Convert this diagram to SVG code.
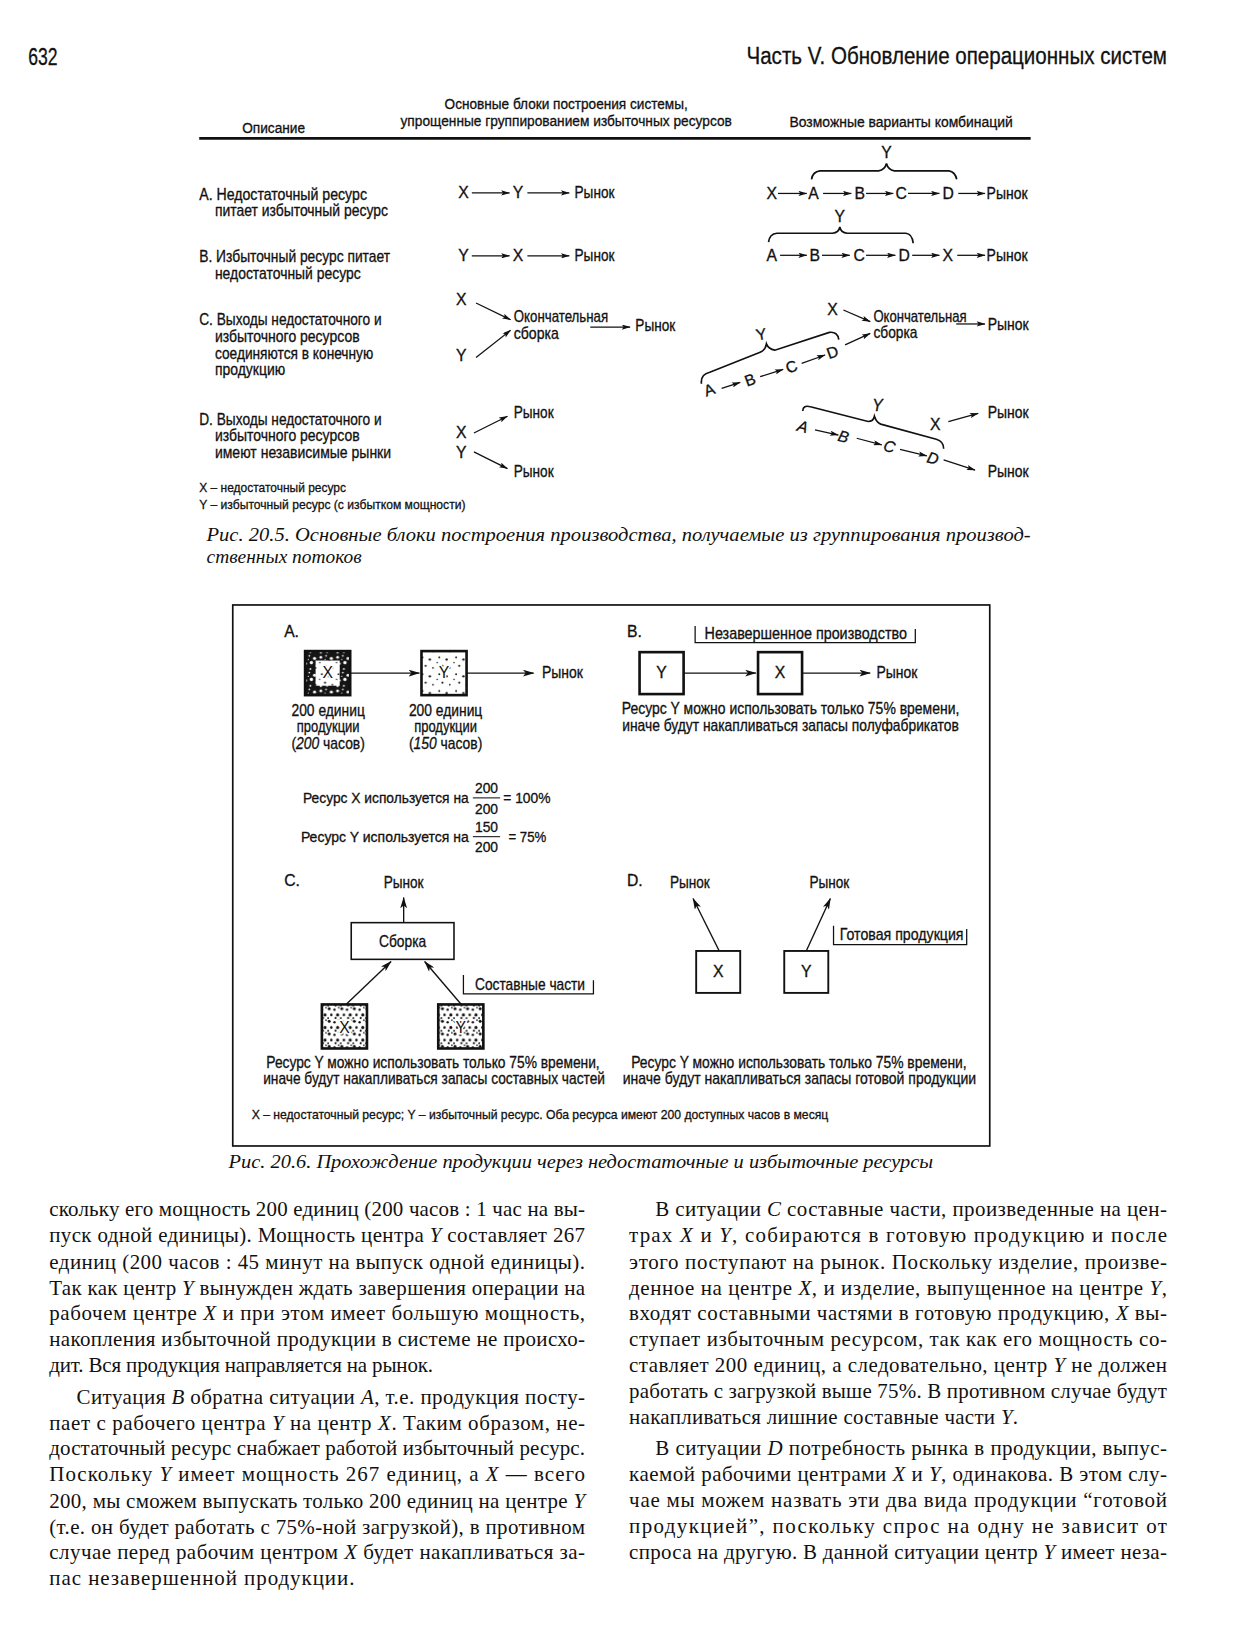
<svg xmlns="http://www.w3.org/2000/svg" width="1238" height="1644" viewBox="0 0 1238 1644">
<defs>
<style>
.s{font-family:"Liberation Sans Narrow","Liberation Sans",Arial,sans-serif;fill:#111;stroke:#111;stroke-width:0.3}
.h{font-size:14px}
.r{font-size:15px}
.sm{font-size:13px}
.hd{font-size:23px}
.cap{font-family:"Liberation Serif","Times New Roman",serif;font-style:italic;font-size:18px;fill:#111}
.b{font-family:"Liberation Serif","Times New Roman",serif;font-size:20px;fill:#111}
.i{font-style:italic}
.ln{stroke:#111;stroke-width:1.2;fill:none}
.ln2{stroke:#111;stroke-width:1.3;fill:none}
.br{stroke:#111;stroke-width:1.6;fill:none}
.bx{stroke:#111;stroke-width:2.5}
.mid{text-anchor:middle}
.halo{stroke:#fff;stroke-width:3;paint-order:stroke}
</style>
<marker id="a1" viewBox="0 0 10 6" refX="9.5" refY="3" markerWidth="9" markerHeight="5" orient="auto" markerUnits="userSpaceOnUse"><path d="M0,0 L10,3 L0,6 L2,3z" fill="#111"/></marker>
<marker id="a2" viewBox="0 0 10 6" refX="9.5" refY="3" markerWidth="11" markerHeight="6.5" orient="auto" markerUnits="userSpaceOnUse"><path d="M0,0 L10,3 L0,6 L2.5,3z" fill="#111"/></marker>
<pattern id="pd" width="16" height="16" patternUnits="userSpaceOnUse">
<rect width="16" height="16" fill="#151515"/>
<circle cx="2" cy="3" r="1.3" fill="#fff"/><circle cx="7" cy="1.5" r="0.8" fill="#fff"/><circle cx="12" cy="4" r="1.5" fill="#fff"/><circle cx="4" cy="9" r="1" fill="#fff"/><circle cx="9" cy="8" r="1.6" fill="#fff"/><circle cx="14" cy="11" r="0.9" fill="#fff"/><circle cx="2" cy="14" r="1.2" fill="#fff"/><circle cx="8" cy="14" r="0.9" fill="#fff"/><circle cx="6" cy="5" r="0.6" fill="#fff"/>
</pattern>
<pattern id="pl" width="16" height="16" patternUnits="userSpaceOnUse">
<rect width="16" height="16" fill="#fff"/>
<circle cx="3" cy="3" r="0.9" fill="#111"/><circle cx="10" cy="5" r="1.1" fill="#111"/><circle cx="6" cy="11" r="1" fill="#111"/><circle cx="13" cy="13" r="0.8" fill="#111"/><circle cx="1" cy="8" r="0.7" fill="#111"/>
</pattern>
<pattern id="pm" width="12" height="12" patternUnits="userSpaceOnUse">
<rect width="12" height="12" fill="#fff"/>
<circle cx="2" cy="2" r="1.4" fill="#111"/><circle cx="7" cy="3" r="1.1" fill="#111"/><circle cx="10" cy="8" r="1.5" fill="#111"/><circle cx="4" cy="8" r="1.2" fill="#111"/><circle cx="1" cy="11" r="0.9" fill="#111"/><circle cx="8" cy="11" r="1" fill="#111"/><circle cx="11" cy="1" r="0.8" fill="#111"/>
</pattern>
</defs>
<rect width="1238" height="1644" fill="#fff"/>
<g transform="scale(1.04847)">

<!-- page header -->
<g id="page-header">
<text class="s hd" x="27" y="62" textLength="28" lengthAdjust="spacingAndGlyphs">632</text>
<text class="s hd" x="712" y="61" textLength="401" lengthAdjust="spacingAndGlyphs">Часть V. Обновление операционных систем</text>
</g>

<!-- Figure 20.5 -->
<g id="fig205-header">
<text class="s h" x="424" y="104" textLength="232" lengthAdjust="spacingAndGlyphs">Основные блоки построения системы,</text>
<text class="s h" x="382" y="120" textLength="316" lengthAdjust="spacingAndGlyphs">упрощенные группированием избыточных ресурсов</text>
<text class="s h" x="231" y="127" textLength="60" lengthAdjust="spacingAndGlyphs">Описание</text>
<text class="s h" x="753" y="121" textLength="213" lengthAdjust="spacingAndGlyphs">Возможные варианты комбинаций</text>
<line x1="190" y1="132" x2="983" y2="132" stroke="#111" stroke-width="2.6"/>
</g>

<g id="fig205-descriptions">
<text class="s r" x="190" y="191" textLength="160" lengthAdjust="spacingAndGlyphs">A. Недостаточный ресурс</text>
<text class="s r" x="205" y="206" textLength="165" lengthAdjust="spacingAndGlyphs">питает избыточный ресурс</text>
<text class="s r" x="190" y="250" textLength="182" lengthAdjust="spacingAndGlyphs">B. Избыточный ресурс питает</text>
<text class="s r" x="205" y="266" textLength="139" lengthAdjust="spacingAndGlyphs">недостаточный ресурс</text>
<text class="s r" x="190" y="310" textLength="174" lengthAdjust="spacingAndGlyphs">C. Выходы недостаточного и</text>
<text class="s r" x="205" y="326" textLength="138" lengthAdjust="spacingAndGlyphs">избыточного ресурсов</text>
<text class="s r" x="205" y="342" textLength="151" lengthAdjust="spacingAndGlyphs">соединяются в конечную</text>
<text class="s r" x="205" y="358" textLength="67" lengthAdjust="spacingAndGlyphs">продукцию</text>
<text class="s r" x="190" y="405" textLength="174" lengthAdjust="spacingAndGlyphs">D. Выходы недостаточного и</text>
<text class="s r" x="205" y="421" textLength="138" lengthAdjust="spacingAndGlyphs">избыточного ресурсов</text>
<text class="s r" x="205" y="437" textLength="168" lengthAdjust="spacingAndGlyphs">имеют независимые рынки</text>
<text class="s sm" x="190" y="469" textLength="140" lengthAdjust="spacingAndGlyphs">X – недостаточный ресурс</text>
<text class="s sm" x="190" y="485" textLength="254" lengthAdjust="spacingAndGlyphs">Y – избыточный ресурс (с избытком мощности)</text>
</g>

<g id="fig205-blocks">
<text class="s r" x="437" y="189">X</text>
<text class="s r" x="489" y="189">Y</text>
<text class="s r" x="548" y="189" textLength="38" lengthAdjust="spacingAndGlyphs">Рынок</text>
<text class="s r" x="437" y="249">Y</text>
<text class="s r" x="489" y="249">X</text>
<text class="s r" x="548" y="249" textLength="38" lengthAdjust="spacingAndGlyphs">Рынок</text>
<text class="s r" x="435" y="291">X</text>
<text class="s r" x="435" y="344">Y</text>
<text class="s r" x="490" y="307" textLength="90" lengthAdjust="spacingAndGlyphs">Окончательная</text>
<text class="s r" x="490" y="323" textLength="43" lengthAdjust="spacingAndGlyphs">сборка</text>
<text class="s r" x="606" y="316" textLength="38" lengthAdjust="spacingAndGlyphs">Рынок</text>
<text class="s r" x="490" y="399" textLength="38" lengthAdjust="spacingAndGlyphs">Рынок</text>
<text class="s r" x="435" y="418">X</text>
<text class="s r" x="435" y="437">Y</text>
<text class="s r" x="490" y="455" textLength="38" lengthAdjust="spacingAndGlyphs">Рынок</text>
</g>

<g id="fig205-combinations">
<text class="s r" x="731" y="190">X</text>
<text class="s r" x="771" y="190">A</text>
<text class="s r" x="815" y="190">B</text>
<text class="s r" x="854" y="190">C</text>
<text class="s r" x="899" y="190">D</text>
<text class="s r" x="941" y="190" textLength="39" lengthAdjust="spacingAndGlyphs">Рынок</text>
<path class="br" d="M774,171 Q775,164 782,163 L838,163 Q844,162 845.5,156 Q847,162 853,163 L905,163 Q911,164 912.5,171"/>
<text class="s r mid" x="845.5" y="151">Y</text>
<text class="s r" x="731" y="249">A</text>
<text class="s r" x="772" y="249">B</text>
<text class="s r" x="814" y="249">C</text>
<text class="s r" x="857" y="249">D</text>
<text class="s r" x="899" y="249">X</text>
<text class="s r" x="941" y="249" textLength="39" lengthAdjust="spacingAndGlyphs">Рынок</text>
<path class="br" d="M733,231 Q734,223 741,222.5 L794,222.5 Q800,222 801,216.5 Q802,222 808,222.5 L864,222.5 Q870,223 871,232"/>
<text class="s r mid" x="801" y="212">Y</text>
<text class="s r" x="789" y="300">X</text>
<text class="s r" x="833" y="307" textLength="89" lengthAdjust="spacingAndGlyphs">Окончательная</text>
<text class="s r" x="833" y="322" textLength="42" lengthAdjust="spacingAndGlyphs">сборка</text>
<text class="s r" x="942" y="315" textLength="39" lengthAdjust="spacingAndGlyphs">Рынок</text>
<text class="s r mid" transform="translate(676.5,372) rotate(-20)" x="0" y="5">A</text>
<text class="s r mid" transform="translate(715.5,362.5) rotate(-20)" x="0" y="5">B</text>
<text class="s r mid" transform="translate(755,350) rotate(-20)" x="0" y="5">C</text>
<text class="s r mid" transform="translate(794,336) rotate(-20)" x="0" y="5">D</text>
<path class="br" d="M669,366 Q668,357 677,355 L725,336 Q730,334 731,328 Q733,333 739,334 L791,317 Q799,316 800,324"/>
<text class="s r mid" transform="translate(727,324) rotate(-10)" x="0" y="0">Y</text>
<text class="s r i mid" transform="translate(765.6,407) rotate(15)" x="0" y="5">A</text>
<text class="s r i mid" transform="translate(804.4,416.5) rotate(15)" x="0" y="5">B</text>
<text class="s r i mid" transform="translate(848.2,426) rotate(15)" x="0" y="5">C</text>
<text class="s r i mid" transform="translate(889.6,437.2) rotate(15)" x="0" y="5">D</text>
<path class="br" d="M765.6,392 Q766,386 773,388 L828,402 Q833,402 834,397 Q836,403 840,404.5 L893,419 Q900,421 900,428"/>
<text class="s r i mid" x="837" y="392">Y</text>
<text class="s r" x="887" y="410">X</text>
<text class="s r" x="942" y="399" textLength="39" lengthAdjust="spacingAndGlyphs">Рынок</text>
<text class="s r" x="942" y="455" textLength="39" lengthAdjust="spacingAndGlyphs">Рынок</text>
</g>

<g id="fig205-connectors">
<line class="ln" x1="450" y1="184" x2="486" y2="184" marker-end="url(#a1)"/>
<line class="ln" x1="503" y1="184" x2="543" y2="184" marker-end="url(#a1)"/>
<line class="ln" x1="450" y1="244" x2="486" y2="244" marker-end="url(#a1)"/>
<line class="ln" x1="503" y1="244" x2="543" y2="244" marker-end="url(#a1)"/>
<line class="ln" x1="454" y1="289" x2="487" y2="305" marker-end="url(#a1)"/>
<line class="ln" x1="454" y1="341" x2="487" y2="315" marker-end="url(#a1)"/>
<line class="ln" x1="563" y1="312" x2="601" y2="312" marker-end="url(#a1)"/>
<line class="ln" x1="452" y1="413" x2="484" y2="397" marker-end="url(#a1)"/>
<line class="ln" x1="452" y1="431" x2="484" y2="447" marker-end="url(#a1)"/>
<line class="ln" x1="742" y1="184.5" x2="769.5" y2="184.5" marker-end="url(#a1)"/>
<line class="ln" x1="785" y1="184.5" x2="812" y2="184.5" marker-end="url(#a1)"/>
<line class="ln" x1="826" y1="184.5" x2="852" y2="184.5" marker-end="url(#a1)"/>
<line class="ln" x1="866" y1="184.5" x2="896" y2="184.5" marker-end="url(#a1)"/>
<line class="ln" x1="914" y1="184.5" x2="939.5" y2="184.5" marker-end="url(#a1)"/>
<line class="ln" x1="744" y1="243.5" x2="769.5" y2="243.5" marker-end="url(#a1)"/>
<line class="ln" x1="784" y1="243.5" x2="810.5" y2="243.5" marker-end="url(#a1)"/>
<line class="ln" x1="826" y1="243.5" x2="854" y2="243.5" marker-end="url(#a1)"/>
<line class="ln" x1="870" y1="243.5" x2="896" y2="243.5" marker-end="url(#a1)"/>
<line class="ln" x1="913" y1="243.5" x2="939.5" y2="243.5" marker-end="url(#a1)"/>
<line class="ln" x1="688.3" y1="370.4" x2="706" y2="364.7" marker-end="url(#a1)"/>
<line class="ln" x1="725" y1="359.3" x2="747" y2="352.3" marker-end="url(#a1)"/>
<line class="ln" x1="764.6" y1="346.5" x2="787" y2="338.6" marker-end="url(#a1)"/>
<line class="ln" x1="806" y1="329" x2="830" y2="318" marker-end="url(#a1)"/>
<line class="ln" x1="804.4" y1="295.7" x2="830" y2="306.8" marker-end="url(#a1)"/>
<line class="ln" x1="912" y1="309" x2="939.5" y2="309" marker-end="url(#a1)"/>
<line class="ln" x1="777.3" y1="410.1" x2="799.6" y2="414.9" marker-end="url(#a1)"/>
<line class="ln" x1="817.1" y1="418" x2="841" y2="424.4" marker-end="url(#a1)"/>
<line class="ln" x1="858.4" y1="428.6" x2="884" y2="434.9" marker-end="url(#a1)"/>
<line class="ln" x1="900" y1="438.7" x2="930" y2="448.3" marker-end="url(#a1)"/>
<line class="ln" x1="904.5" y1="402.2" x2="933" y2="394.2" marker-end="url(#a1)"/>
</g>

<g id="fig205-caption">
<text class="cap" x="197" y="516" textLength="786" lengthAdjust="spacingAndGlyphs">Рис. 20.5. Основные блоки построения производства, получаемые из группирования производ-</text>
<text class="cap" x="197" y="537" textLength="148" lengthAdjust="spacingAndGlyphs">ственных потоков</text>
</g>

<!-- Figure 20.6 -->
<rect id="fig206-frame" x="222" y="577" width="722" height="516" fill="none" stroke="#111" stroke-width="1.6"/>

<g id="panel-A-label"><text class="s r" x="271" y="608">A.</text></g>
<g id="node-A-X">
<rect x="291" y="621" width="43" height="42" fill="url(#pd)" class="bx"/>
<rect x="301" y="630" width="23" height="24" fill="url(#pl)"/>
<text class="s r mid halo" x="312.5" y="647">X</text>
</g>
<g id="node-A-Y">
<rect x="402" y="621" width="43" height="42" fill="url(#pl)" class="bx" stroke-width="3.5"/>
<text class="s r mid halo" x="423.5" y="647">Y</text>
</g>
<g id="node-A-market"><text class="s r" x="517" y="647" textLength="39" lengthAdjust="spacingAndGlyphs">Рынок</text></g>
<g id="panel-A-notes">
<text class="s r mid" x="313" y="683" textLength="70" lengthAdjust="spacingAndGlyphs">200 единиц</text>
<text class="s r mid" x="313" y="698" textLength="60" lengthAdjust="spacingAndGlyphs">продукции</text>
<text class="s r mid" x="313" y="714" textLength="70" lengthAdjust="spacingAndGlyphs">(<tspan class="i">200</tspan> часов)</text>
<text class="s r mid" x="425" y="683" textLength="70" lengthAdjust="spacingAndGlyphs">200 единиц</text>
<text class="s r mid" x="425" y="698" textLength="60" lengthAdjust="spacingAndGlyphs">продукции</text>
<text class="s r mid" x="425" y="714" textLength="70" lengthAdjust="spacingAndGlyphs">(<tspan class="i">150</tspan> часов)</text>
<text class="s h" x="289" y="766" textLength="158" lengthAdjust="spacingAndGlyphs">Ресурс X используется на</text>
<text class="s h mid" x="464" y="756" textLength="22" lengthAdjust="spacingAndGlyphs">200</text>
<line x1="451" y1="761" x2="477" y2="761" stroke="#111" stroke-width="1"/>
<text class="s h mid" x="464" y="776" textLength="22" lengthAdjust="spacingAndGlyphs">200</text>
<text class="s h" x="480" y="766" textLength="45" lengthAdjust="spacingAndGlyphs">= 100%</text>
<text class="s h" x="287" y="803" textLength="160" lengthAdjust="spacingAndGlyphs">Ресурс Y используется на</text>
<text class="s h mid" x="464" y="794" textLength="22" lengthAdjust="spacingAndGlyphs">150</text>
<line x1="451" y1="798" x2="477" y2="798" stroke="#111" stroke-width="1"/>
<text class="s h mid" x="464" y="813" textLength="22" lengthAdjust="spacingAndGlyphs">200</text>
<text class="s h" x="485" y="803" textLength="36" lengthAdjust="spacingAndGlyphs">= 75%</text>
</g>

<g id="panel-B-label"><text class="s r" x="598" y="608">B.</text></g>
<g id="label-wip">
<path class="ln" d="M663,597 V613 H873 V600"/>
<text class="s r" x="672" y="609" textLength="193" lengthAdjust="spacingAndGlyphs">Незавершенное производство</text>
</g>
<g id="node-B-Y">
<rect x="610" y="622" width="42" height="40" fill="#fff" class="bx" stroke-width="3"/>
<text class="s r mid" x="631" y="647">Y</text>
</g>
<g id="node-B-X">
<rect x="723" y="622" width="42" height="40" fill="#fff" class="bx" stroke-width="3"/>
<text class="s r mid" x="744" y="647">X</text>
</g>
<g id="node-B-market"><text class="s r" x="836" y="647" textLength="39" lengthAdjust="spacingAndGlyphs">Рынок</text></g>
<g id="panel-B-notes">
<text class="s r mid" x="754" y="681" textLength="322" lengthAdjust="spacingAndGlyphs">Ресурс Y можно использовать только 75% времени,</text>
<text class="s r mid" x="754" y="697" textLength="321" lengthAdjust="spacingAndGlyphs">иначе будут накапливаться запасы полуфабрикатов</text>
</g>

<g id="panel-C-label"><text class="s r" x="271" y="845">C.</text></g>
<g id="node-C-market"><text class="s r" x="366" y="847" textLength="38" lengthAdjust="spacingAndGlyphs">Рынок</text></g>
<g id="node-C-assembly">
<rect x="335" y="880" width="98" height="35" fill="#fff" stroke="#111" stroke-width="1.5"/>
<text class="s r mid" x="384" y="903" textLength="45" lengthAdjust="spacingAndGlyphs">Сборка</text>
</g>
<g id="label-parts">
<path class="ln" d="M442,930 V948 H566 V935"/>
<text class="s r" x="453" y="944" textLength="105" lengthAdjust="spacingAndGlyphs">Составные части</text>
</g>
<g id="node-C-X">
<rect x="307" y="958" width="43" height="42" fill="url(#pm)" class="bx" stroke-width="3"/>
<text class="s r mid halo" x="328.5" y="985">X</text>
</g>
<g id="node-C-Y">
<rect x="418" y="958" width="43" height="42" fill="url(#pm)" class="bx" stroke-width="3"/>
<text class="s r mid halo" x="439.5" y="985">Y</text>
</g>
<g id="panel-C-notes">
<text class="s r mid" x="413" y="1019" textLength="318" lengthAdjust="spacingAndGlyphs">Ресурс Y можно использовать только 75% времени,</text>
<text class="s r mid" x="414" y="1034" textLength="326" lengthAdjust="spacingAndGlyphs">иначе будут накапливаться запасы составных частей</text>
</g>

<g id="panel-D-label"><text class="s r" x="598" y="845">D.</text></g>
<g id="node-D-market1"><text class="s r" x="639" y="847" textLength="38" lengthAdjust="spacingAndGlyphs">Рынок</text></g>
<g id="node-D-market2"><text class="s r" x="772" y="847" textLength="38" lengthAdjust="spacingAndGlyphs">Рынок</text></g>
<g id="label-finished">
<path class="ln" d="M795,883 V901 H922 V886"/>
<text class="s r" x="801" y="897" textLength="118" lengthAdjust="spacingAndGlyphs">Готовая продукция</text>
</g>
<g id="node-D-X">
<rect x="664" y="907" width="42" height="40" fill="#fff" stroke="#111" stroke-width="1.8"/>
<text class="s r mid" x="685" y="932">X</text>
</g>
<g id="node-D-Y">
<rect x="748" y="907" width="42" height="40" fill="#fff" stroke="#111" stroke-width="1.8"/>
<text class="s r mid" x="769" y="932">Y</text>
</g>
<g id="panel-D-notes">
<text class="s r mid" x="762" y="1019" textLength="320" lengthAdjust="spacingAndGlyphs">Ресурс Y можно использовать только 75% времени,</text>
<text class="s r mid" x="762.5" y="1034" textLength="337" lengthAdjust="spacingAndGlyphs">иначе будут накапливаться запасы готовой продукции</text>
</g>
<g id="fig206-footnote">
<text class="s sm" x="240" y="1067" textLength="550" lengthAdjust="spacingAndGlyphs">X – недостаточный ресурс; Y – избыточный ресурс. Оба ресурса имеют 200 доступных часов в месяц</text>
</g>

<g id="fig206-connectors">
<line class="ln2" x1="334" y1="642" x2="400" y2="642" marker-end="url(#a2)"/>
<line class="ln2" x1="445" y1="642" x2="509" y2="642" marker-end="url(#a2)"/>
<line class="ln2" x1="652" y1="642" x2="721" y2="642" marker-end="url(#a2)"/>
<line class="ln2" x1="765" y1="642" x2="830" y2="642" marker-end="url(#a2)"/>
<line class="ln2" x1="385" y1="880" x2="385" y2="856" marker-end="url(#a2)"/>
<line class="ln2" x1="330" y1="958" x2="373" y2="917" marker-end="url(#a2)"/>
<line class="ln2" x1="440" y1="958" x2="405" y2="917" marker-end="url(#a2)"/>
<line class="ln2" x1="686" y1="907" x2="661" y2="857" marker-end="url(#a2)"/>
<line class="ln2" x1="769" y1="907" x2="792" y2="857" marker-end="url(#a2)"/>
</g>

<g id="fig206-caption">
<text class="cap" x="218" y="1114" textLength="672" lengthAdjust="spacingAndGlyphs">Рис. 20.6. Прохождение продукции через недостаточные и избыточные ресурсы</text>
</g>

<!-- body text -->
<g id="body-left">
<text class="b" x="47" y="1160" textLength="511" lengthAdjust="spacing">скольку его мощность 200 единиц (200 часов : 1 час на вы-</text>
<text class="b" x="47" y="1185" textLength="511" lengthAdjust="spacing">пуск одной единицы). Мощность центра <tspan class="i">Y</tspan> составляет 267</text>
<text class="b" x="47" y="1210" textLength="511" lengthAdjust="spacing">единиц (200 часов : 45 минут на выпуск одной единицы).</text>
<text class="b" x="47" y="1235" textLength="511" lengthAdjust="spacing">Так как центр <tspan class="i">Y</tspan> вынужден ждать завершения операции на</text>
<text class="b" x="47" y="1259" textLength="511" lengthAdjust="spacing">рабочем центре <tspan class="i">X</tspan> и при этом имеет большую мощность,</text>
<text class="b" x="47" y="1284" textLength="511" lengthAdjust="spacing">накопления избыточной продукции в системе не происхо-</text>
<text class="b" x="47" y="1309" textLength="366" lengthAdjust="spacing">дит. Вся продукция направляется на рынок.</text>
<text class="b" x="73" y="1339" textLength="485" lengthAdjust="spacing">Ситуация <tspan class="i">B</tspan> обратна ситуации <tspan class="i">A</tspan>, т.е. продукция посту-</text>
<text class="b" x="47" y="1364" textLength="511" lengthAdjust="spacing">пает с рабочего центра <tspan class="i">Y</tspan> на центр <tspan class="i">X</tspan>. Таким образом, не-</text>
<text class="b" x="47" y="1388" textLength="511" lengthAdjust="spacing">достаточный ресурс снабжает работой избыточный ресурс.</text>
<text class="b" x="47" y="1413" textLength="511" lengthAdjust="spacing">Поскольку <tspan class="i">Y</tspan> имеет мощность 267 единиц, а <tspan class="i">X</tspan> — всего</text>
<text class="b" x="47" y="1438" textLength="511" lengthAdjust="spacing">200, мы сможем выпускать только 200 единиц на центре <tspan class="i">Y</tspan></text>
<text class="b" x="47" y="1463" textLength="511" lengthAdjust="spacing">(т.е. он будет работать с 75%-ной загрузкой), в противном</text>
<text class="b" x="47" y="1487" textLength="511" lengthAdjust="spacing">случае перед рабочим центром <tspan class="i">X</tspan> будет накапливаться за-</text>
<text class="b" x="47" y="1512" textLength="291" lengthAdjust="spacing">пас незавершенной продукции.</text>
</g>
<g id="body-right">
<text class="b" x="625" y="1160" textLength="488" lengthAdjust="spacing">В ситуации <tspan class="i">C</tspan> составные части, произведенные на цен-</text>
<text class="b" x="600" y="1185" textLength="513" lengthAdjust="spacing">трах <tspan class="i">X</tspan> и <tspan class="i">Y</tspan>, собираются в готовую продукцию и после</text>
<text class="b" x="600" y="1210" textLength="513" lengthAdjust="spacing">этого поступают на рынок. Поскольку изделие, произве-</text>
<text class="b" x="600" y="1235" textLength="513" lengthAdjust="spacing">денное на центре <tspan class="i">X</tspan>, и изделие, выпущенное на центре <tspan class="i">Y</tspan>,</text>
<text class="b" x="600" y="1259" textLength="513" lengthAdjust="spacing">входят составными частями в готовую продукцию, <tspan class="i">X</tspan> вы-</text>
<text class="b" x="600" y="1284" textLength="513" lengthAdjust="spacing">ступает избыточным ресурсом, так как его мощность со-</text>
<text class="b" x="600" y="1309" textLength="513" lengthAdjust="spacing">ставляет 200 единиц, а следовательно, центр <tspan class="i">Y</tspan> не должен</text>
<text class="b" x="600" y="1333" textLength="513" lengthAdjust="spacing">работать с загрузкой выше 75%. В противном случае будут</text>
<text class="b" x="600" y="1358" textLength="371" lengthAdjust="spacing">накапливаться лишние составные части <tspan class="i">Y</tspan>.</text>
<text class="b" x="625" y="1388" textLength="488" lengthAdjust="spacing">В ситуации <tspan class="i">D</tspan> потребность рынка в продукции, выпус-</text>
<text class="b" x="600" y="1413" textLength="513" lengthAdjust="spacing">каемой рабочими центрами <tspan class="i">X</tspan> и <tspan class="i">Y</tspan>, одинакова. В этом слу-</text>
<text class="b" x="600" y="1437" textLength="513" lengthAdjust="spacing">чае мы можем назвать эти два вида продукции “готовой</text>
<text class="b" x="600" y="1462" textLength="513" lengthAdjust="spacing">продукцией”, поскольку спрос на одну не зависит от</text>
<text class="b" x="600" y="1487" textLength="513" lengthAdjust="spacing">спроса на другую. В данной ситуации центр <tspan class="i">Y</tspan> имеет неза-</text>
</g>

</g>
</svg>
